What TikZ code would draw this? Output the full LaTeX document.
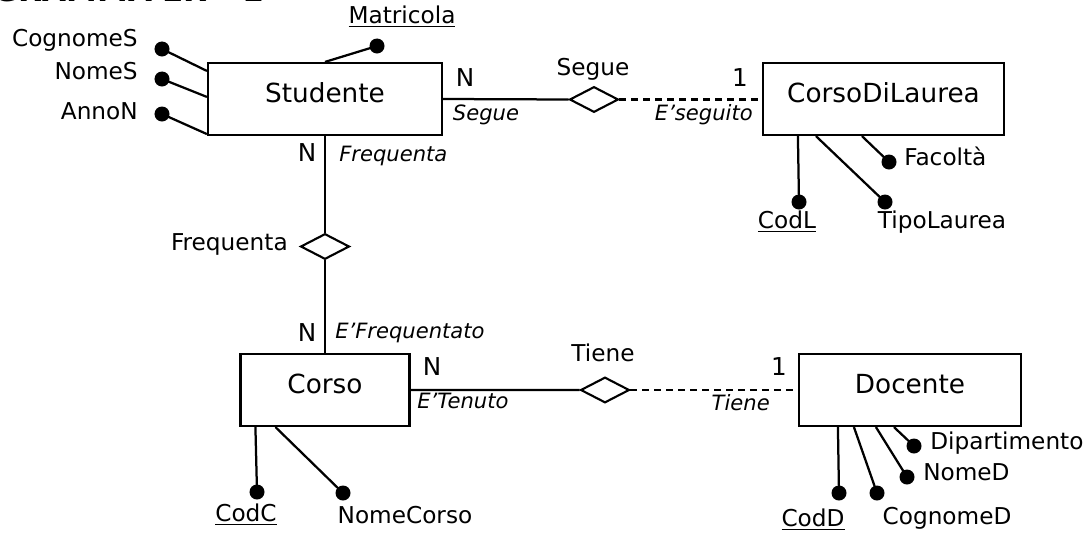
\documentclass[tikz,border=0pt]{standalone}
\usepackage{fontspec}
\setmainfont{DejaVu Sans}
\usetikzlibrary{shapes.geometric,calc}

\tikzset{
  entita/.style={draw, line width=1.5pt, inner sep=0pt, anchor=base,
    text height=0.975cm, text depth=0.825cm, font=\fontsize{18.7}{22}\selectfont},
  relaz/.style={draw, diamond, line width=1.5pt, inner sep=0pt,
    minimum width=1.22cm, minimum height=0.64cm},
  attr/.style={circle, fill, inner sep=0pt, minimum size=0.375cm},
  nome/.style={inner sep=0pt, anchor=mid, font=\fontsize{16.5}{20}\selectfont},
  card/.style={inner sep=0pt, anchor=mid, font=\fontsize{17.5}{20}\selectfont},
  ruolo/.style={inner sep=0pt, anchor=mid, font=\fontsize{15}{18}\selectfont\itshape},
  titolo/.style={inner sep=0pt, font=\fontsize{22}{26}\selectfont\bfseries},
  linea/.style={line width=1.6pt},
  tratto/.style={line width=1.6pt, dash pattern=on 5pt off 3.5pt},
}

\begin{document}
\begin{tikzpicture}[x=0.025cm, y=-0.025cm]
\useasboundingbox (0,0) rectangle (1088,540);

% titolo, tagliato dal bordo superiore
\begin{scope}
  \clip (0,0) rectangle (1088,540);
  \node[titolo, anchor=base east] (titolo) at (264,1.5) {DIAGRAMMA ER - 1};
\end{scope}

% entita'
\node[entita, minimum width=5.85cm]  (Studente) at (325,102)   {Studente};
\node[entita, minimum width=6.025cm] (CDL)      at (883.5,102) {CorsoDiLaurea};
\node[entita, minimum width=4.225cm] (Corso)    at (325,393)   {Corso};
\node[entita, minimum width=5.55cm]  (Docente)  at (910,393)   {Docente};

% relazioni
\node[relaz] (Segue)     at (594,99.5)  {};
\node[relaz] (Frequenta) at (325,246.5) {};
\node[relaz] (Tiene)     at (605,390)   {};

\draw[linea] (Studente.east) -- (Segue.west);
\draw[tratto] (Segue.east) -- (Segue.east -| CDL.west);
\draw[linea] (Studente.south) -- (Frequenta.north);
\draw[linea] (Frequenta.south) -- (Corso.north);
\draw[linea] (Corso.east) -- (Tiene.west);
\draw[tratto] (Tiene.east) -- (Tiene.east -| Docente.west);

% nomi delle relazioni, cardinalita' e ruoli
\node[nome] (n-Segue) at (593,72) {Segue};
\node[card] (c-Segue-N) at (465,83) {N};
\node[card] (c-Segue-1) at (740,83) {1};
\node[ruolo] (r-Segue) at (486,117) {Segue};
\node[ruolo, anchor=mid east] (r-Eseguito) at (753,117) {E’seguito};

\node[nome, anchor=mid east] (n-Frequenta) at (288,247) {Frequenta};
\node[card] (c-Freq-N1) at (307,158) {N};
\node[ruolo, anchor=mid west] (r-Frequenta) at (339,158) {Frequenta};
\node[card] (c-Freq-N2) at (307,338) {N};
\node[ruolo, anchor=mid west] (r-EFrequentato) at (335,335) {E’Frequentato};

\node[nome] (n-Tiene) at (603,358) {Tiene};
\node[card] (c-Tiene-N) at (432,372) {N};
\node[card] (c-Tiene-1) at (779,372) {1};
\node[ruolo, anchor=mid west] (r-ETenuto) at (417,405) {E’Tenuto};
\node[ruolo, anchor=mid east] (r-Tiene) at (770,407) {Tiene};

% attributi di Studente
\node[attr] (a-CognomeS)  at (162,49)  {};
\node[attr] (a-NomeS)     at (162,79)  {};
\node[attr] (a-AnnoN)     at (162,114) {};
\node[attr] (a-Matricola) at (377,46)  {};
\draw[linea] (a-CognomeS.center) -- ($(Studente.north west)+(0,9)$);
\draw[linea] (a-NomeS.center) -- ($(Studente.north west)+(0,35)$);
\draw[linea] (a-AnnoN.center) -- ($(Studente.south west)+(0,-2)$);
\draw[linea] (a-Matricola.center) -- (Studente.north);
\node[nome, anchor=mid east] (l-CognomeS) at (138,43)  {CognomeS};
\node[nome, anchor=mid east] (l-NomeS)    at (138,76)  {NomeS};
\node[nome, anchor=mid east] (l-AnnoN)    at (138,116) {AnnoN};
\node[nome] (l-Matricola) at (402,20) {\underline{Matricola}};

% attributi di CorsoDiLaurea
\node[attr] (a-CodL)       at (799,202) {};
\node[attr] (a-TipoLaurea) at (885,202) {};
\node[attr] (a-Facolta)    at (889,162) {};
\draw[linea] (a-CodL.center) -- ($(CDL.south west)+(36,0)$);
\draw[linea] (a-TipoLaurea.center) -- ($(CDL.south west)+(54,0)$);
\draw[linea] (a-Facolta.center) -- ($(CDL.south west)+(100,0)$);
\node[nome] (l-CodL) at (787,225) {\underline{CodL}};
\node[nome] (l-TipoLaurea) at (942,225) {TipoLaurea};
\node[nome, anchor=mid west] (l-Facolta) at (904,162) {Facoltà};

% attributi di Corso
\node[attr] (a-CodC)      at (257,492) {};
\node[attr] (a-NomeCorso) at (343,493) {};
\draw[linea] (a-CodC.center) -- ($(Corso.south west)+(16,0)$);
\draw[linea] (a-NomeCorso.center) -- ($(Corso.south west)+(36,0)$);
\node[nome] (l-CodC) at (246,518) {\underline{CodC}};
\node[nome] (l-NomeCorso) at (405,520) {NomeCorso};

% attributi di Docente
\node[attr] (a-CodD)         at (839,493) {};
\node[attr] (a-CognomeD)     at (877,493) {};
\node[attr] (a-NomeD)        at (907,477) {};
\node[attr] (a-Dipartimento) at (914,446) {};
\draw[linea] (a-CodD.center) -- ($(Docente.south west)+(40,0)$);
\draw[linea] (a-CognomeD.center) -- ($(Docente.south west)+(56,0)$);
\draw[linea] (a-NomeD.center) -- ($(Docente.south west)+(78,0)$);
\draw[linea] (a-Dipartimento.center) -- ($(Docente.south west)+(96,0)$);
\node[nome] (l-CodD) at (813,523) {\underline{CodD}};
\node[nome] (l-CognomeD) at (947,521) {CognomeD};
\node[nome, anchor=mid west] (l-NomeD) at (923,477) {NomeD};
\node[nome, anchor=mid west] (l-Dipartimento) at (930,446) {Dipartimento};
\end{tikzpicture}
\end{document}
